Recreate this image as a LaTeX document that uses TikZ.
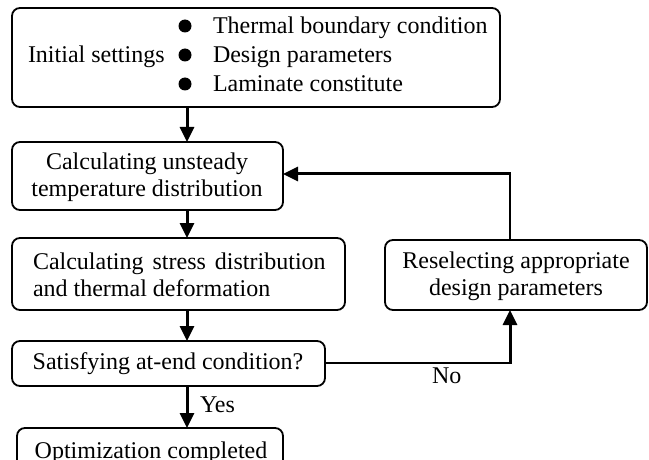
\documentclass[tikz,border=0pt]{standalone}
\usepackage{fontspec}
\setmainfont{Liberation Serif}
\usetikzlibrary{arrows.meta}
\begin{document}
\begin{tikzpicture}[x=1pt,y=-1pt,
  box/.style={draw,line width=1.8pt,rounded corners=8pt,outer sep=0pt,inner sep=0pt,anchor=north west},
  txt/.style={font=\fontsize{24}{27}\selectfont,inner sep=0pt,outer sep=0pt},
  bul/.style={circle,fill,minimum size=13pt,inner sep=0pt},
  arr/.style={line width=3pt,-{Triangle[length=15pt,width=14pt]}},
  lin/.style={line width=2.2pt}]
\useasboundingbox (0,0) rectangle (649,460);
% boxes
\node[box,minimum width=488pt,minimum height=99pt] (B1) at (12,8) {};
\node[box,minimum width=271pt,minimum height=68pt] (B2) at (12,142) {};
\node[box,minimum width=333pt,minimum height=72pt] (B3) at (12,238) {};
\node[box,minimum width=313pt,minimum height=45pt] (B4) at (12,341) {};
\node[box,minimum width=266pt,minimum height=60pt] (B5) at (17,428) {};
\node[box,minimum width=262pt,minimum height=70pt] (B6) at (385,240) {};
% texts
\node[txt,anchor=base west] (t0) at (28,63) {Initial settings};
\node[bul] (b1) at (185,26) {};
\node[bul] (b2) at (185,55) {};
\node[bul] (b3) at (185,84) {};
\node[txt,anchor=base west] (t1) at (213,34) {Thermal boundary condition};
\node[txt,anchor=base west] (t2) at (213,63) {Design parameters};
\node[txt,anchor=base west] (t3) at (213,92) {Laminate constitute};
\node[txt,align=center] (t4) at (147,177) {Calculating unsteady\\temperature distribution};
\node[txt,align=left,anchor=west] (t5) at (33,275) {Calculating\hspace{9pt}stress\hspace{9pt}distribution\\and thermal deformation};
\node[txt,anchor=base] (t6) at (168,369) {Satisfying at-end condition?};
\node[txt,anchor=base] (t7) at (151,458) {Optimization completed};
\node[txt,align=center] (t8) at (516,276) {Reselecting appropriate\\design parameters};
\node[txt,anchor=base west] (yes) at (200,412) {Yes};
\node[txt,anchor=base west] (no) at (432,383) {No};
% connectors
\coordinate (ax) at (187,0);
\coordinate (fx) at (510,0);
\coordinate (top) at (510,174);
\coordinate (nocorner) at (510,363);
\draw[arr] (B1.south -| ax) -- (B2.north -| ax);
\draw[arr] (B2.south -| ax) -- (B3.north -| ax);
\draw[arr] (B3.south -| ax) -- (B4.north -| ax);
\draw[arr] (B4.south -| ax) -- (B5.north -| ax);
\draw[lin] (B6.north -| fx) -- (top);
\draw[arr] ([xshift=1pt]top) -- (top -| B2.east);
\draw[lin] (B4.east |- nocorner) -- ([xshift=1.5pt]nocorner);
\draw[arr] (nocorner) -- (B6.south -| fx);
\end{tikzpicture}
\end{document}
